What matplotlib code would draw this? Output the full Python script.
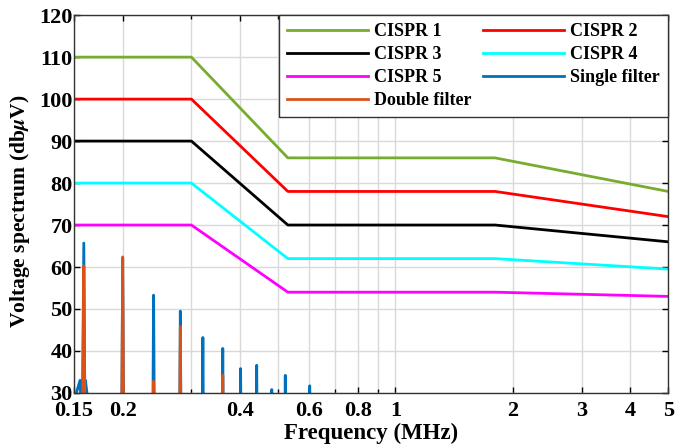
import numpy as np
import matplotlib
matplotlib.use("Agg")
import matplotlib.pyplot as plt
from matplotlib.ticker import FixedLocator, NullFormatter

plt.rcParams['font.family'] = ['Liberation Serif', 'DejaVu Serif']
plt.rcParams['font.weight'] = 'bold'
plt.rcParams['mathtext.fontset'] = 'stix'

# CISPR limit lines (frequency breakpoints in MHz, level in dBuV)
limit_freq = [0.15, 0.3, 0.53, 1.8, 5.0]
cispr1 = [110, 110, 86, 86, 78]
cispr2 = [100, 100, 78, 78, 72]
cispr3 = [90, 90, 70, 70, 66]
cispr4 = [80, 80, 62, 62, 59.5]
cispr5 = [70, 70, 54, 54, 53]

# spectrum harmonics
single_freq = [0.159, 0.2, 0.24, 0.281, 0.321, 0.361, 0.401, 0.441, 0.482, 0.522, 0.603]
single_peak = [65.7, 62.0, 53.3, 49.5, 43.2, 40.6, 35.8, 36.6, 30.8, 34.2, 31.7]
double_freq = [0.159, 0.2, 0.24, 0.281, 0.361]
double_peak = [60.3, 62.4, 32.8, 45.8, 34.2]

xticks = [0.15, 0.2, 0.4, 0.6, 0.8, 1, 2, 3, 4, 5]
xtick_labels = ['0.15', '0.2', '0.4', '0.6', '0.8', '1', '2', '3', '4', '5']


def spike_trace(freqs, peaks, half_width=0.0012, floor=20):
    x, y = [], []
    for f, p in zip(freqs, peaks):
        x += [f - half_width, f, f + half_width]
        y += [floor, p, floor]
    return x, y


fig = plt.figure(figsize=(6.91, 4.46), dpi=100)
ax = fig.add_axes([0.107, 0.119, 0.860, 0.847])

l1, = ax.plot(limit_freq, cispr1, color='#77AC30', lw=2, label='CISPR 1')
l2, = ax.plot(limit_freq, cispr2, color='#FF0000', lw=2, label='CISPR 2')
l3, = ax.plot(limit_freq, cispr3, color='#000000', lw=2, label='CISPR 3')
l4, = ax.plot(limit_freq, cispr4, color='#00FFFF', lw=2, label='CISPR 4')
l5, = ax.plot(limit_freq, cispr5, color='#FF00FF', lw=2, label='CISPR 5')

sx, sy = spike_trace(single_freq, single_peak)
# small bump around the first harmonic
sx = [0.150, 0.1555, 0.1575] + sx[1:3] + [0.1605, 0.163] + sx[3:]
sy = [28, 33, 20] + sy[1:3] + [33, 28] + sy[3:]
l6, = ax.plot(sx, sy, color='#0072BD', lw=2, label='Single filter')
dx, dy = spike_trace(double_freq, double_peak)
l7, = ax.plot(dx, dy, color='#D95319', lw=2, label='Double filter')

ax.set_xscale('log')
ax.set_xlim(0.15, 5)
ax.set_ylim(30, 120)
ax.set_yticks(np.arange(30, 121, 10))
ax.xaxis.set_major_locator(FixedLocator(xticks))
ax.set_xticklabels(xtick_labels)
ax.xaxis.set_minor_locator(FixedLocator([0.3, 0.5, 0.7, 0.9]))
ax.xaxis.set_minor_formatter(NullFormatter())

ax.grid(True, which='both', color='#d9d9d9', lw=1)
ax.set_axisbelow(True)
ax.tick_params(direction='in', which='both', top=True, right=True,
               labelsize=16, length=4, width=1)
ax.tick_params(axis='y', pad=1)
ax.tick_params(axis='x', pad=6)
ax.tick_params(which='minor', length=3)
for s in ax.spines.values():
    s.set_color('#333333')
    s.set_linewidth(1)
for lbl in ax.get_xticklabels() + ax.get_yticklabels():
    lbl.set_fontweight('bold')

ax.set_xlabel('Frequency (MHz)', fontsize=16.5, fontweight='bold', labelpad=1)
ax.set_ylabel(r'Voltage spectrum (db$\mu$V)', fontsize=15.5, fontweight='bold')
ax.yaxis.set_label_coords(-0.071, 0.48)

# column-major order so rows read CISPR 1 | CISPR 2, CISPR 3 | CISPR 4 ...
handles = [l1, l3, l5, l7, l2, l4, l6]
leg = ax.legend(handles=handles, labels=[h.get_label() for h in handles],
                loc='upper right', ncol=2, fontsize=13, frameon=True, fancybox=False,
                edgecolor='#333333', framealpha=1, handlelength=4.5,
                borderaxespad=0, columnspacing=0.6, labelspacing=0.33,
                borderpad=0.45, handletextpad=0.35)
leg.get_frame().set_linewidth(1)
for t in leg.get_texts():
    t.set_fontweight('bold')

fig.savefig('out.png', dpi=100)
